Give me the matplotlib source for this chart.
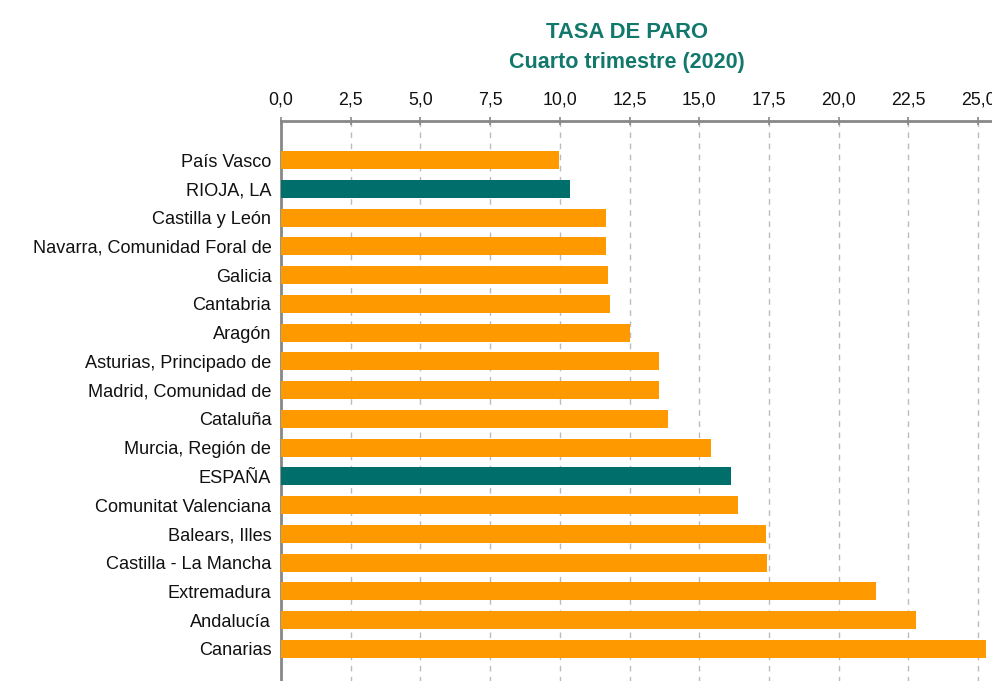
import matplotlib
matplotlib.use("Agg")
import matplotlib.pyplot as plt
from matplotlib.ticker import FuncFormatter, MultipleLocator

# datos (tasa de paro, 4T 2020)
regiones = [
    "País Vasco", "RIOJA, LA", "Castilla y León", "Navarra, Comunidad Foral de",
    "Galicia", "Cantabria", "Aragón", "Asturias, Principado de",
    "Madrid, Comunidad de", "Cataluña", "Murcia, Región de", "ESPAÑA",
    "Comunitat Valenciana", "Balears, Illes", "Castilla - La Mancha",
    "Extremadura", "Andalucía", "Canarias",
]
tasas = [
    9.97, 10.36, 11.66, 11.66,
    11.71, 11.80, 12.51, 13.54,
    13.54, 13.88, 15.41, 16.13,
    16.39, 17.39, 17.43,
    21.35, 22.77, 25.27,
]
destacadas = ["RIOJA, LA", "ESPAÑA"]

NARANJA = "#FF9900"
VERDE = "#006E6B"
TITULO = "#12786C"

plt.rcParams["font.family"] = ["Liberation Sans", "DejaVu Sans"]

fig = plt.figure(figsize=(9.92, 6.81), dpi=100)
# el eje se sale por la derecha y por abajo, como en el original recortado
ax = fig.add_axes([0.2833, -0.0103, 0.7308, 0.8326])

colores = [VERDE if r in destacadas else NARANJA for r in regiones]
y = range(len(regiones))
ax.barh(y, tasas, height=0.63, color=colores, zorder=3)

ax.set_xlim(0, 26)
ax.set_ylim(len(regiones) - 1 + 1.36, -1.36)
ax.set_yticks(list(y))
ax.set_yticklabels(regiones, fontsize=13.1, color="#111111")

ax.xaxis.tick_top()
ax.xaxis.set_major_locator(MultipleLocator(2.5))
ax.xaxis.set_major_formatter(FuncFormatter(lambda v, p: f"{v:.1f}".replace(".", ",")))
ax.tick_params(axis="x", direction="inout", length=6, width=1.2, color="#888888",
               labelsize=12.8, labelcolor="#111111", pad=6)
ax.tick_params(axis="y", length=0, pad=7)

ax.grid(axis="x", linestyle=(0, (4, 4)), color="#bbbbbb", linewidth=1, zorder=0)

for lado in ["right", "bottom"]:
    ax.spines[lado].set_visible(False)
ax.spines["top"].set_color("#888888")
ax.spines["top"].set_linewidth(2)
ax.spines["left"].set_color("#888888")
ax.spines["left"].set_linewidth(2)

fig.text(0.632, 0.953, "TASA DE PARO", ha="center", va="center",
         fontsize=15.8, fontweight="bold", color=TITULO)
fig.text(0.632, 0.908, "Cuarto trimestre (2020)", ha="center", va="center",
         fontsize=15.5, fontweight="bold", color=TITULO)

fig.savefig("out.png", dpi=100)
